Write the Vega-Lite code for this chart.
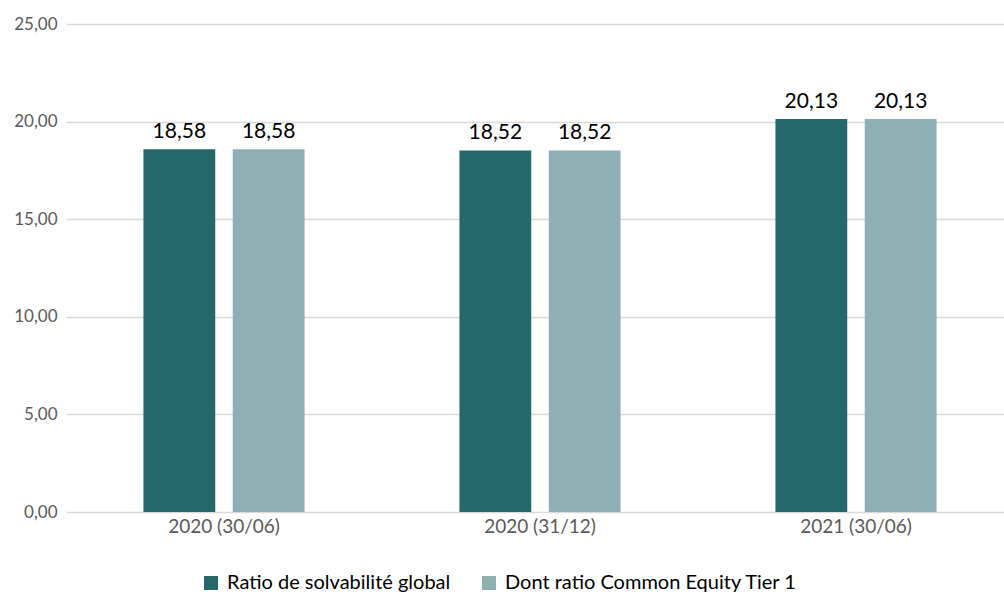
{
  "$schema": "https://vega.github.io/schema/vega-lite/v6.json",
  "width": 948,
  "height": 488,
  "autosize": {"type": "none"},
  "padding": {"left": 66, "top": 24, "right": 0, "bottom": 83},
  "background": "white",
  "config": {
    "locale": {"number": {"decimal": ",", "thousands": " ", "grouping": [3], "currency": ["", " €"]}},
    "view": {"stroke": null},
    "font": "Lato"
  },
  "data": {
    "values": [
      {"periode": "2020 (30/06)", "serie": "Ratio de solvabilité global", "valeur": 18.58},
      {"periode": "2020 (30/06)", "serie": "Dont ratio Common Equity Tier 1", "valeur": 18.58},
      {"periode": "2020 (31/12)", "serie": "Ratio de solvabilité global", "valeur": 18.52},
      {"periode": "2020 (31/12)", "serie": "Dont ratio Common Equity Tier 1", "valeur": 18.52},
      {"periode": "2021 (30/06)", "serie": "Ratio de solvabilité global", "valeur": 20.13},
      {"periode": "2021 (30/06)", "serie": "Dont ratio Common Equity Tier 1", "valeur": 20.13}
    ]
  },
  "encoding": {
    "x": {
      "field": "periode", "type": "nominal", "sort": null,
      "scale": {"paddingInner": 0, "paddingOuter": 0},
      "axis": {"title": null, "labelAngle": 0, "labelFontSize": 19, "labelColor": "#595959", "labelPadding": 5, "ticks": false, "domain": false, "grid": false}
    },
    "xOffset": {
      "field": "serie", "type": "nominal",
      "sort": ["Ratio de solvabilité global", "Dont ratio Common Equity Tier 1"],
      "scale": {"paddingInner": 0.196, "paddingOuter": 0.867}
    },
    "y": {
      "field": "valeur", "type": "quantitative",
      "scale": {"domain": [0, 25], "nice": false},
      "axis": {"title": null, "values": [0, 5, 10, 15, 20, 25], "format": ".2f", "labelFontSize": 17, "labelColor": "#595959", "labelPadding": 9, "ticks": false, "domain": false, "grid": true, "gridColor": "#d9d9d9", "gridWidth": 1.5}
    }
  },
  "layer": [
    {
      "mark": {"type": "bar"},
      "encoding": {
        "color": {
          "field": "serie", "type": "nominal",
          "sort": ["Ratio de solvabilité global", "Dont ratio Common Equity Tier 1"],
          "scale": {"range": ["#26676b", "#8fb0b2"]},
          "legend": {
            "title": null, "orient": "none", "direction": "horizontal",
            "legendX": 135, "legendY": 549,
            "symbolType": "square", "symbolSize": 196, "symbolStrokeWidth": 0, "symbolOpacity": 1,
            "labelFontSize": 20, "labelColor": "#000000", "labelLimit": 500, "columnPadding": 28, "labelOffset": 6
          }
        }
      }
    },
    {
      "mark": {"type": "text", "baseline": "bottom", "dy": -7, "fontSize": 21, "color": "#000000"},
      "encoding": {
        "text": {"field": "valeur", "type": "quantitative", "format": ".2f"}
      }
    }
  ]
}
